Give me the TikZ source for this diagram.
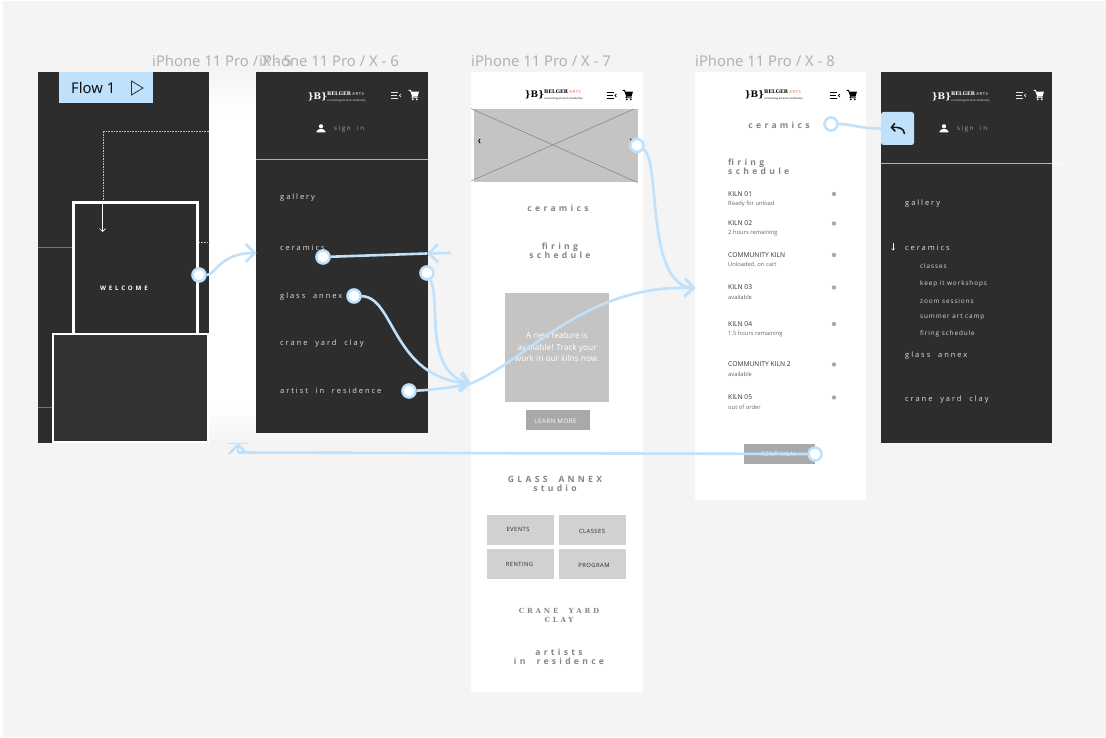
\documentclass[tikz,border=0pt]{standalone}
\usepackage{fontspec}
\usetikzlibrary{positioning,arrows.meta}
\setmainfont{Open Sans}
\newfontfamily\trackfont[LetterSpace=26,WordSpace=2]{Open Sans}
\newfontfamily\headfont[LetterSpace=38,WordSpace=2]{Open Sans}
\newfontfamily\capsfont[LetterSpace=8]{Open Sans}
\newfontfamily\subfont[LetterSpace=14]{Open Sans}
\newfontfamily\wordfont[LetterSpace=45]{Open Sans}
\newfontfamily\slabfont[LetterSpace=40,WordSpace=2]{DejaVu Serif}
\newfontfamily\logofont{DejaVu Serif}
\newfontfamily\labelfont{Noto Sans}
\definecolor{canvas}{HTML}{F4F4F4}
\definecolor{screen}{HTML}{2D2D2D}
\definecolor{flowblue}{HTML}{BFE1FC}
\definecolor{wire}{HTML}{C4C4C4}
\definecolor{soft}{HTML}{D1D1D1}
\definecolor{btn}{HTML}{A9A9A9}
\definecolor{headgray}{HTML}{858585}
\definecolor{framelabel}{HTML}{B2B2B2}
\definecolor{artsred}{HTML}{E0603C}
\tikzset{
  box/.style={rectangle,inner sep=0pt,outer sep=0pt,anchor=north west},
  darkscreen/.style={box,fill=screen},
  lightscreen/.style={box,fill=white},
  framename/.style={anchor=west,inner sep=0pt,text=framelabel,font=\labelfont\fontsize{14.8}{16}\selectfont},
  menuitem/.style={anchor=west,inner sep=0pt,yshift=-1pt,text=white!88!black,font=\trackfont\fontsize{7.5}{9}\selectfont},
  signin/.style={menuitem,text=white!65!black,font=\trackfont\fontsize{6.2}{8}\selectfont},
  subitem/.style={anchor=west,inner sep=0pt,text=white!85!black,font=\subfont\fontsize{6.4}{8}\selectfont},
  heading/.style={inner sep=0pt,align=center,text=headgray,font=\headfont\bfseries\fontsize{8.6}{9}\selectfont},
  kilnname/.style={anchor=west,inner sep=0pt,text=black!80,font=\fontsize{6.7}{8}\selectfont},
  kilnnote/.style={anchor=west,inner sep=0pt,text=black!60,font=\fontsize{5.8}{7}\selectfont},
  kilndot/.style={circle,fill=btn,inner sep=0pt,minimum size=4.4pt},
  tile/.style={box,fill=soft,minimum width=67pt,minimum height=30pt},
  tiletext/.style={inner sep=0pt,text=black!85,font=\capsfont\fontsize{5.8}{7}\selectfont},
  hotspot/.style={circle,fill=white,draw=flowblue,line width=2.6pt,minimum size=13pt,inner sep=0pt},
  flow/.style={draw=flowblue,line width=2.6pt},
  flowto/.style={flow,-{Straight Barb[length=9pt,width=18pt]}},
  pics/menuicon/.style={code={
    \draw[line width=1pt] (-5,-3)--(2,-3) (-5,0)--(1,0) (-5,3)--(2,3);
    \draw[line width=.7pt] (5,-1.5)--(3.4,0)--(5,1.5);}},
  pics/carticon/.style={code={
    \fill (-5.4,-5)--(-3.2,-5)--(-2.6,-3.4)--(5,-3.4)--(3.5,1.6)--(-1.6,1.6)--(-1.2,2.4)--(3.8,2.4)--(3.8,3.2)--(-2.6,3.2)--(-2,.8)--(-3.8,-4)--(-5.4,-4)--cycle;
    \fill (-1.2,4.4) circle (1) (2.8,4.4) circle (1);}},
  pics/personicon/.style={code={
    \fill (0,-2.2) circle (2.1);
    \fill (-4.4,4)--(-4.4,2.6)--(-1.8,.6)--(1.8,.6)--(4.4,2.6)--(4.4,4)--cycle;}},
  pics/logo/.style n args={2}{code={
    \node[inner sep=0pt,text=#1,font=\logofont\bfseries\fontsize{9}{10}\selectfont] (-mark) at (-21.5,0) {\}B\}};
    \node[anchor=west,inner sep=0pt,font=\logofont\bfseries\fontsize{5}{5}\selectfont,text=#1] (-word) at (-12,-3) {BELGER};
    \node[right=1pt of -word,inner sep=0pt,font=\fontsize{4.2}{5}\selectfont\subfont,text=#2] (-arts) {ARTS};
    \node[anchor=west,inner sep=0pt,font=\fontsize{2.7}{3}\selectfont,text=#1] (-tag) at (-12,3.8) {connecting art and community};}}
}
\begin{document}
\begin{tikzpicture}[x=1pt,y=-1pt]
  \useasboundingbox (0,0) rectangle (1106,738);
  \fill[white] (0,0) rectangle (1106,738);
  \fill[canvas] (3,1) rectangle (1106,737);
  \shade[top color=canvas,bottom color=white] (209,72) rectangle (256,115);
  \fill[white] (209,115) rectangle (256,405);
  \shade[top color=white,bottom color=canvas] (209,405) rectangle (256,442);
  \fill[black!14] (228,443.2) rectangle (248,444.2);

  \node[framename] (namefive) at (152,61) {iPhone 11 Pro / X - 5};
  \node[framename] (namesix) at (259,61) {iPhone 11 Pro / X - 6};
  \node[framename] (nameseven) at (471,61) {iPhone 11 Pro / X - 7};
  \node[framename] (nameeight) at (695,61) {iPhone 11 Pro / X - 8};

  \node[darkscreen,minimum width=171pt,minimum height=371pt] (screenfive) at (38,72) {};
  \draw[white!45!black,line width=.8pt] (38,247.5)--(72,247.5) (38,407.5)--(52,407.5);
  \draw[white!75!black,densely dotted,line width=.6pt] (209,131)--(103,131)--(103,200) (199,242)--(209,242);
  \node[box,fill=screen,draw=white,line width=3pt,minimum width=124pt,minimum height=132pt] (welcomecard) at (73.5,202.5) {};
  \node[box,fill=white,minimum width=157pt,minimum height=110pt] (lowerback) at (52,333) {};
  \node[box,fill=white!20!black,minimum width=153.5pt,minimum height=106pt] (lowercard) at (53.5,335) {};
  \node[inner sep=0pt,text=white,font=\wordfont\bfseries\fontsize{6.2}{7}\selectfont] (welcometext) at (124,288) {WELCOME};
  \coordinate (dropstart) at (102.5,203);
  \coordinate (dropend) at (102.5,232);
  \draw[white,line width=.6pt,-{Straight Barb[length=3pt,width=6pt]}] (dropstart) -- (dropend);
  \node[box,fill=flowblue,minimum width=94pt,minimum height=31.5pt] (flowtag) at (59,72) {};
  \node[anchor=west,inner sep=0pt,text=black!95,font=\labelfont\fontsize{14.8}{16}\selectfont] (flowtext) at (71,88) {Flow 1};
  \draw[black!80,line width=.8pt] (131.5,81)--(143,88)--(131.5,95)--cycle;

  \node[darkscreen,minimum width=171.5pt,minimum height=361pt] (screensix) at (256,72) {};
  \draw[white!70!black,line width=.7pt] (256,159.5)--(427.5,159.5);
  \pic[color=white] (logosix) at (339,97) {logo={white}{white}};
  \pic[color=white!90!black] at (396,95.5) {menuicon};
  \pic[color=white] at (414,95) {carticon};
  \pic[color=white] at (321,128.5) {personicon};
  \node[signin] (signinsix) at (334,128) {sign in};
  \node[menuitem] (gallerysix) at (280,197) {gallery};
  \node[menuitem] (ceramicssix) at (280,246.5) {ceramics};
  \node[menuitem] (glasssix) at (280,295.5) {glass annex};
  \node[menuitem] (cranesix) at (280,343) {crane yard clay};
  \node[menuitem] (artistsix) at (280,390) {artist in residence};

  \node[lightscreen,minimum width=171.5pt,minimum height=620pt] (screenseven) at (471,72) {};
  \pic[color=black] (logoseven) at (556,95) {logo={black}{artsred}};
  \pic[color=black] at (611.5,95.5) {menuicon};
  \pic[color=black] at (628,95) {carticon};
  \node[box,fill=wire,minimum width=163.5pt,minimum height=73pt] (herobox) at (474,109.5) {};
  \coordinate (crossa) at (471,108.5);
  \coordinate (crossb) at (637.5,182.5);
  \coordinate (crossc) at (471,181);
  \coordinate (crossd) at (634,109);
  \draw[black!50,line width=.5pt] (crossa) -- (crossb) (crossc) -- (crossd);
  \draw[black,line width=.8pt] (480.2,138.8)--(478.6,141)--(480.2,143.2);
  \draw[black,line width=.8pt] (630.4,138.8)--(632,141)--(630.4,143.2);
  \node[heading] (ceramicsseven) at (558,208) {ceramics};
  \node[heading] (firingseven) at (560,250.5) {firing\\schedule};
  \node[box,fill=wire,minimum width=104pt,minimum height=109pt] (featurebox) at (505,293) {};
  \node[inner sep=0pt,align=center,text=white,font=\fontsize{8.3}{11.2}\selectfont] (featuretext) at (557,347) {A new feature is\\available! Track your\\work in our kilns now.};
  \node[box,fill=btn,minimum width=64pt,minimum height=20pt] (learnbox) at (526,410) {};
  \node[inner sep=0pt,text=white,font=\capsfont\fontsize{6.2}{7}\selectfont] (learntext) at (555.5,421) {LEARN MORE};
  \node[heading,font=\headfont\bfseries\fontsize{8.6}{9}\selectfont] (glassseven) at (555,483.5) {GLASS ANNEX\\studio};
  \node[tile] (eventsbox) at (487,515) {};
  \node[tile] (classesbox) at (559,515) {};
  \node[tile] (rentingbox) at (487,549) {};
  \node[tile] (programbox) at (559,549) {};
  \node[tiletext] (eventstext) at (518,529.5) {EVENTS};
  \node[tiletext] (classestext) at (592,531) {CLASSES};
  \node[tiletext] (rentingtext) at (519.5,564.5) {RENTING};
  \node[tiletext] (programtext) at (594,565) {PROGRAM};
  \node[heading,font=\slabfont\bfseries\fontsize{7}{9}\selectfont] (craneseven) at (559,615.5) {CRANE YARD\\CLAY};
  \node[heading] (artistsseven) at (559,656.5) {artists\\in residence};

  \node[lightscreen,minimum width=171pt,minimum height=428pt] (screeneight) at (695,72) {};
  \pic[color=black] (logoeight) at (776,95) {logo={black}{artsred}};
  \pic[color=black] at (835,95.5) {menuicon};
  \pic[color=black] at (852,95) {carticon};
  \node[heading] (ceramicseight) at (779,125) {ceramics};
  \node[heading,anchor=west,align=left] (firingeight) at (728,166.5) {firing\\schedule};
  \foreach \i/\rowy/\kiln/\state in {1/194/KILN 01/Ready for unload,2/223.5/KILN 02/2 hours remaining,3/255/COMMUNITY KILN/{Unloaded, on cart},4/287.5/KILN 03/available,5/324/KILN 04/1.5 hours remaining,6/364.5/COMMUNITY KILN 2/available,7/397.5/KILN 05/out of order} {
    \node[kilnname] (kiln\i) at (728,\rowy) {\kiln};
    \node[kilnnote] (state\i) at ([yshift=-9.5pt]kiln\i.west) {\state};
    \node[kilndot] (lamp\i) at (834,\rowy) {};
  }
  \node[box,fill=btn,minimum width=71pt,minimum height=20pt] (rentbox) at (744,444) {};
  \node[inner sep=0pt,text=white,font=\capsfont\fontsize{6.2}{7}\selectfont] (renttext) at (778,454.5) {RENT KILN};

  \node[darkscreen,minimum width=171pt,minimum height=371pt] (screennine) at (881,72) {};
  \draw[white!70!black,line width=.7pt] (881,163.5)--(1052,163.5);
  \draw[white,line width=.7pt] (1052,163.5)--(1062,163.5);
  \pic[color=white] (logonine) at (963,97) {logo={white}{white}};
  \pic[color=white!90!black] at (1021,95.5) {menuicon};
  \pic[color=white] at (1039,95) {carticon};
  \pic[color=white] at (944,128.5) {personicon};
  \node[signin] (signinnine) at (957,128) {sign in};
  \node[menuitem] (gallerynine) at (905,203) {gallery};
  \node[menuitem] (ceramicsnine) at (905,247) {ceramics};
  \draw[white,line width=.6pt,-{Straight Barb[length=1.5pt,width=3pt]}] (893,243.5)--(893,250.5);
  \foreach \i/\rowy/\sub in {1/266.5/classes,2/284/keep it workshops,3/301/zoom sessions,4/317.5/summer art camp,5/334/firing schedule}
    \node[subitem] (sub\i) at (920,\rowy) {\sub};
  \node[menuitem] (glassnine) at (905,354.5) {glass annex};
  \node[menuitem] (cranenine) at (905,398.5) {crane yard clay};
  \node[rectangle,rounded corners=2.5pt,fill=flowblue,minimum size=33pt,inner sep=0pt] (backbtn) at (897.5,128.5) {};
  \draw[black!90,line width=1.6pt,-{Straight Barb[length=3.5pt,width=8pt]}] (904.5,134) .. controls (904,128) and (899,127) .. (890.5,127.5);

  \node[hotspot] (welcomespot) at (199,275) {};
  \node[hotspot] (ceramicsspot) at (323,257) {};
  \node[hotspot] (sidespot) at (427,273) {};
  \node[hotspot] (glassspot) at (354,296) {};
  \node[hotspot] (artistspot) at (409,391) {};
  \node[hotspot] (herospot) at (637,145.5) {};
  \node[hotspot] (kilnspot) at (831,124) {};
  \node[hotspot] (rentspot) at (815,454) {};
  \coordinate (screensixin) at (256.5,253);
  \coordinate (stubend) at (451,253);
  \coordinate (stubtip) at (427,253.5);
  \coordinate (seventip) at (471,383.5);
  \coordinate (eighttip) at (695.5,288);
  \coordinate (fivetip) at (238,443);
  \coordinate (bendfive) at (238,452.5);
  \draw[flowto] (welcomespot) .. controls (215,275) and (220,253) .. (screensixin);
  \draw[flow] (ceramicsspot) -- (stubtip);
  \draw[flowto] (stubend) -- (stubtip);
  \draw[flowto] (sidespot) .. controls (441,300) and (423,372) .. (seventip);
  \draw[flowto] (glassspot) .. controls (395,297) and (392,378) .. (seventip);
  \draw[flow] (artistspot) .. controls (430,390) and (450,388) .. (seventip);
  \draw[flowto] (seventip) .. controls (530,358) and (585,284) .. (eighttip);
  \draw[flowto] (herospot) .. controls (661,160) and (645,285) .. (eighttip);
  \draw[flow] (kilnspot) .. controls (851,124) and (860,128.5) .. (backbtn);
  \draw[flow] (rentspot) -- (bendfive);
  \draw[flowto] (bendfive) -- (fivetip);
\end{tikzpicture}
\end{document}
